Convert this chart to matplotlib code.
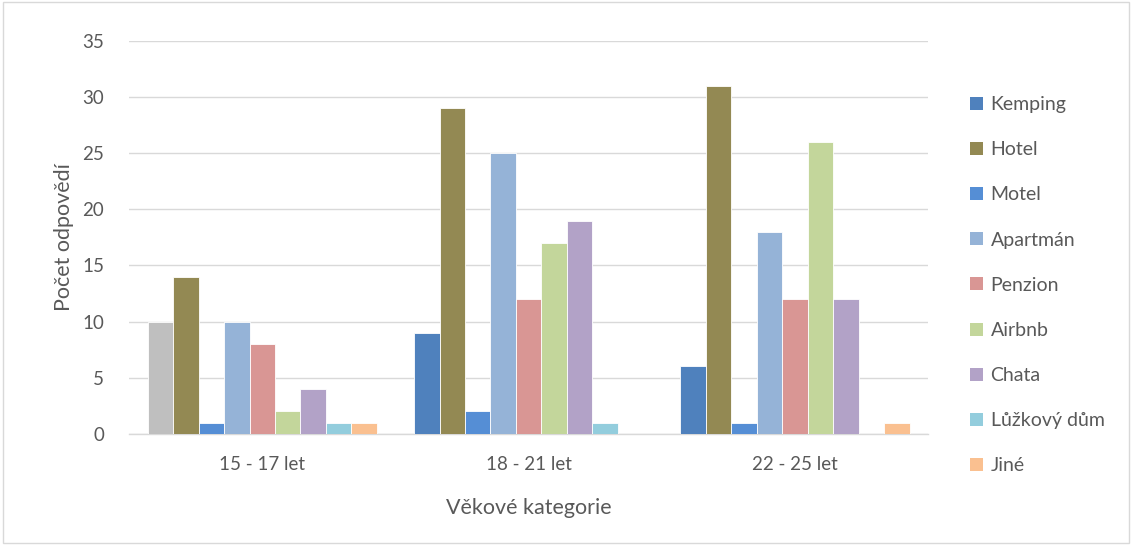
"""Grouped bar chart: accommodation type by age category."""
import numpy as np
import matplotlib.pyplot as plt
from matplotlib.patches import Patch, Rectangle

categories = ["15 - 17 let", "18 - 21 let", "22 - 25 let"]
series = ["Kemping", "Hotel", "Motel", "Apartmán", "Penzion",
          "Airbnb", "Chata", "Lůžkový dům", "Jiné"]

kemping = [10, 9, 6]
hotel = [14, 29, 31]
motel = [1, 2, 1]
apartman = [10, 25, 18]
penzion = [8, 12, 12]
airbnb = [2, 17, 26]
chata = [4, 19, 12]
luzkovy = [1, 1, 0]
jine = [1, 0, 1]

values = [kemping, hotel, motel, apartman, penzion, airbnb, chata, luzkovy, jine]
colors = ["#4f81bd", "#938953", "#558ed5", "#95b3d7", "#d99694",
          "#c3d69b", "#b2a2c7", "#93cddd", "#fac090"]

plt.rcParams["font.family"] = ["Lato", "DejaVu Sans"]
text_color = "#595959"

fig = plt.figure(figsize=(11.32, 5.45), dpi=100)
ax = fig.add_axes([0.114, 0.204, 0.706, 0.721])

x = np.arange(len(categories))
n = len(series)
width = 0.86 / n
for i, (name, vals, col) in enumerate(zip(series, values, colors)):
    offs = (i - (n - 1) / 2) * width
    bars = ax.bar(x + offs, vals, width, color=col,
                  edgecolor="white", linewidth=0.6, zorder=3)
    if name == "Kemping":
        # first point is formatted grey in the source chart
        bars[0].set_facecolor("#bfbfbf")

ax.set_xlim(-0.5, len(categories) - 0.5)
ax.set_ylim(0, 35)
ax.set_yticks(range(0, 36, 5))
ax.set_xticks(x)
ax.set_xticklabels(categories)
ax.grid(axis="y", color="#d9d9d9", linewidth=1.0, zorder=0)
for s in ["top", "right", "left"]:
    ax.spines[s].set_visible(False)
ax.spines["bottom"].set_color("#d9d9d9")
ax.spines["bottom"].set_linewidth(1.0)
ax.tick_params(length=0, labelsize=13.5, colors=text_color)
ax.tick_params(axis="x", pad=16)
ax.tick_params(axis="y", pad=18)

ax.set_ylabel("Počet odpovědí", fontsize=15.5, color=text_color, labelpad=6)
ax.set_xlabel("Věkové kategorie", fontsize=15.5, color=text_color, labelpad=18)

handles = [Patch(facecolor=c, edgecolor="none") for c in colors]
leg = fig.legend(handles, series, loc="upper left",
                 bbox_to_anchor=(0.857, 0.824), frameon=False,
                 fontsize=14, labelspacing=1.45, handlelength=0.65,
                 handleheight=0.65, handletextpad=0.4, borderaxespad=0,
                 borderpad=0)
for t in leg.get_texts():
    t.set_color(text_color)

fig.patches.append(Rectangle((0.003, 0.003), 0.994, 0.994, transform=fig.transFigure,
                             fill=False, edgecolor="#d9d9d9", linewidth=1.0))

fig.savefig("out.png", dpi=100)
